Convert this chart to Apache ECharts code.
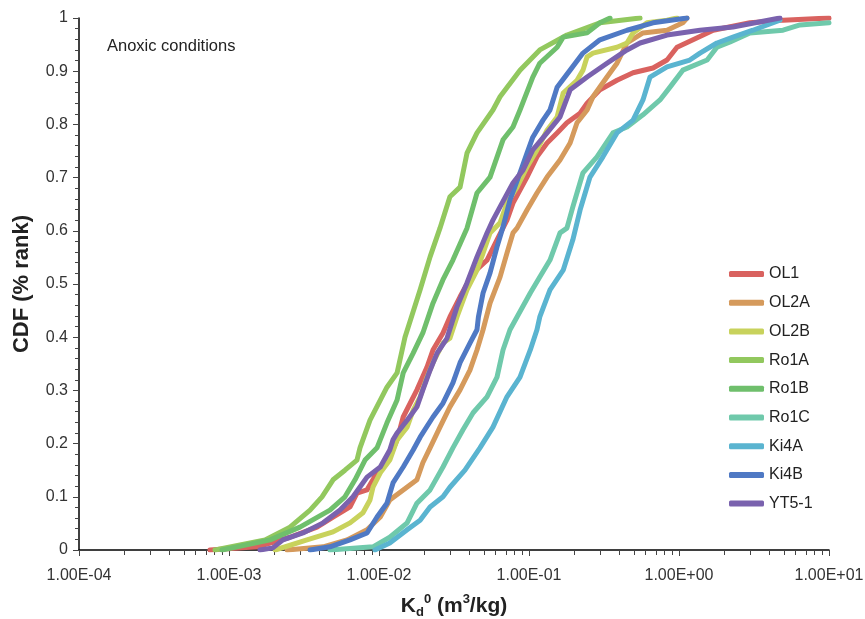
<!DOCTYPE html>
<html>
<head>
<meta charset="utf-8">
<script src="https://cdn.jsdelivr.net/npm/echarts@6/dist/echarts.min.js"></script>
<style>
html,body{margin:0;padding:0;background:#fff;}
#chart{width:865px;height:619px;}
</style>
</head>
<body>
<div id="chart"></div>
<script>
// Series names, legend order
const seriesNames = ['OL1','OL2A','OL2B','Ro1A','Ro1B','Ro1C','Ki4A','Ki4B','YT5-1'];
const seriesColors = ['#d9625f','#d59a5c','#c8d25c','#92c85e','#6fbf6c','#6fc9ab','#5ab4d0','#4f79c4','#7a62ae'];

// Each series: [Kd0 (m3/kg), CDF rank]
const OL1 = [[7.47e-4,0],[1.54e-3,0.006],[2.55e-3,0.024],[3.86e-3,0.043],[4.94e-3,0.062],[6.41e-3,0.081],[7.13e-3,0.107],[8.32e-3,0.113],[9.70e-3,0.145],[1.18e-2,0.175],[1.32e-2,0.207],[1.45e-2,0.25],[1.79e-2,0.301],[2.09e-2,0.344],[2.29e-2,0.376],[2.67e-2,0.408],[2.97e-2,0.438],[3.47e-2,0.476],[4.24e-2,0.521],[5.25e-2,0.545],[6.12e-2,0.583],[7.13e-2,0.620],[7.82e-2,0.652],[9.70e-2,0.701],[0.113,0.739],[0.132,0.765],[0.154,0.784],[0.179,0.803],[0.219,0.821],[0.244,0.840],[0.297,0.865],[0.386,0.883],[0.494,0.897],[0.671,0.906],[0.832,0.921],[0.970,0.945],[1.24,0.959],[1.69,0.977],[2.97,0.991],[4.94,0.996],[10,1.0]];
const OL2A = [[2.44e-3,0],[4.24e-3,0.006],[6.12e-3,0.019],[8.32e-3,0.038],[1.02e-2,0.062],[1.18e-2,0.094],[1.45e-2,0.113],[1.79e-2,0.132],[1.96e-2,0.164],[2.19e-2,0.192],[2.55e-2,0.231],[2.97e-2,0.269],[3.47e-2,0.301],[4.04e-2,0.338],[4.50e-2,0.376],[4.94e-2,0.414],[5.50e-2,0.464],[6.41e-2,0.513],[7.13e-2,0.558],[7.82e-2,0.596],[8.32e-2,0.605],[9.70e-2,0.639],[0.113,0.671],[0.132,0.701],[0.161,0.733],[0.188,0.765],[0.209,0.803],[0.244,0.827],[0.267,0.852],[0.331,0.889],[0.386,0.915],[0.450,0.953],[0.575,0.972],[0.832,0.977],[1.06,0.991],[1.13,1.0]];
const OL2B = [[2.03e-3,0],[3.31e-3,0.019],[4.94e-3,0.034],[6.41e-3,0.051],[7.82e-3,0.070],[8.71e-3,0.094],[9.12e-3,0.118],[1.02e-2,0.145],[1.18e-2,0.169],[1.32e-2,0.207],[1.54e-2,0.231],[1.69e-2,0.263],[1.88e-2,0.288],[2.09e-2,0.325],[2.29e-2,0.352],[2.67e-2,0.389],[2.97e-2,0.398],[3.31e-2,0.438],[3.86e-2,0.489],[4.50e-2,0.526],[4.94e-2,0.558],[5.50e-2,0.596],[6.41e-2,0.615],[7.13e-2,0.652],[8.32e-2,0.682],[9.70e-2,0.720],[0.113,0.752],[0.132,0.789],[0.154,0.814],[0.169,0.859],[0.209,0.883],[0.229,0.902],[0.244,0.927],[0.267,0.934],[0.386,0.945],[0.450,0.953],[0.494,0.972],[0.612,0.991],[0.832,0.996],[0.970,1.0]];
const Ro1A = [[8.07e-4,0],[1.74e-3,0.019],[2.55e-3,0.043],[3.47e-3,0.075],[4.17e-3,0.100],[4.94e-3,0.132],[5.93e-3,0.150],[7.13e-3,0.169],[7.47e-3,0.192],[8.71e-3,0.244],[1.13e-2,0.306],[1.32e-2,0.333],[1.49e-2,0.400],[1.88e-2,0.489],[2.19e-2,0.551],[2.55e-2,0.605],[2.97e-2,0.664],[3.47e-2,0.682],[3.86e-2,0.746],[4.50e-2,0.784],[5.75e-2,0.827],[6.41e-2,0.852],[8.71e-2,0.902],[0.118,0.940],[0.179,0.968],[0.297,0.991],[0.550,1.0]];
const Ro1B = [[8.98e-4,0],[1.88e-3,0.019],[2.97e-3,0.043],[4.71e-3,0.075],[5.93e-3,0.100],[6.92e-3,0.132],[8.07e-3,0.169],[9.70e-3,0.192],[1.13e-2,0.239],[1.32e-2,0.282],[1.45e-2,0.333],[1.69e-2,0.370],[1.96e-2,0.408],[2.29e-2,0.464],[2.67e-2,0.508],[3.11e-2,0.545],[3.86e-2,0.605],[4.50e-2,0.671],[5.50e-2,0.701],[6.71e-2,0.771],[7.82e-2,0.795],[8.71e-2,0.827],[0.106,0.889],[0.118,0.915],[0.154,0.945],[0.169,0.964],[0.244,0.972],[0.297,0.991],[0.347,1.0]];
const Ro1C = [[4.71e-3,0],[9.12e-3,0.006],[1.18e-2,0.024],[1.54e-2,0.051],[1.79e-2,0.088],[2.19e-2,0.113],[2.67e-2,0.156],[3.11e-2,0.192],[3.63e-2,0.226],[4.24e-2,0.258],[5.25e-2,0.288],[6.12e-2,0.325],[6.71e-2,0.376],[7.47e-2,0.414],[8.32e-2,0.438],[0.102,0.483],[0.118,0.513],[0.138,0.545],[0.161,0.596],[0.179,0.605],[0.196,0.645],[0.229,0.709],[0.284,0.739],[0.363,0.784],[0.450,0.795],[0.575,0.818],[0.747,0.846],[0.871,0.870],[1.06,0.902],[1.54,0.921],[1.79,0.945],[2.19,0.955],[2.97,0.972],[4.94,0.977],[6.41,0.987],[10,0.991]];
const Ki4A = [[9.40e-3,0],[1.18e-2,0.013],[1.54e-2,0.038],[1.88e-2,0.056],[2.19e-2,0.081],[2.67e-2,0.100],[2.97e-2,0.118],[3.74e-2,0.150],[4.71e-2,0.192],[5.75e-2,0.231],[7.13e-2,0.288],[8.71e-2,0.325],[0.102,0.376],[0.113,0.414],[0.118,0.438],[0.138,0.489],[0.169,0.526],[0.196,0.583],[0.219,0.639],[0.255,0.701],[0.311,0.739],[0.386,0.784],[0.494,0.808],[0.575,0.846],[0.641,0.889],[0.832,0.908],[1.18,0.921],[1.38,0.934],[1.79,0.953],[2.29,0.964],[3.11,0.977],[4.71,0.996]];
const Ki4B = [[3.47e-3,0],[4.71e-3,0.006],[6.41e-3,0.019],[8.32e-3,0.032],[9.70e-3,0.062],[1.13e-2,0.088],[1.24e-2,0.126],[1.45e-2,0.156],[1.69e-2,0.188],[1.88e-2,0.212],[2.29e-2,0.250],[2.67e-2,0.276],[3.11e-2,0.314],[3.47e-2,0.352],[4.04e-2,0.389],[4.50e-2,0.414],[4.60e-2,0.438],[4.94e-2,0.483],[5.50e-2,0.521],[6.12e-2,0.570],[6.71e-2,0.607],[7.47e-2,0.658],[8.71e-2,0.709],[9.70e-2,0.746],[0.106,0.776],[0.124,0.808],[0.138,0.827],[0.154,0.870],[0.188,0.902],[0.229,0.934],[0.297,0.959],[0.450,0.977],[0.671,0.991],[1.13,1.0]];
const YT51 = [[1.61e-3,0],[1.96e-3,0.004],[2.29e-3,0.019],[3.11e-3,0.032],[4.24e-3,0.051],[5.50e-3,0.075],[6.71e-3,0.100],[8.32e-3,0.137],[1.02e-2,0.156],[1.18e-2,0.188],[1.24e-2,0.207],[1.32e-2,0.220],[1.54e-2,0.244],[1.79e-2,0.269],[1.96e-2,0.301],[2.19e-2,0.338],[2.44e-2,0.370],[2.84e-2,0.398],[3.31e-2,0.457],[3.86e-2,0.502],[4.50e-2,0.551],[5.25e-2,0.596],[5.75e-2,0.620],[6.41e-2,0.645],[7.82e-2,0.690],[9.12e-2,0.714],[0.106,0.752],[0.132,0.784],[0.161,0.814],[0.188,0.865],[0.244,0.889],[0.331,0.915],[0.450,0.940],[0.550,0.953],[0.832,0.968],[1.38,0.977],[2.29,0.983],[4.71,1.0]];

const seriesData = [OL1, OL2A, OL2B, Ro1A, Ro1B, Ro1C, Ki4A, Ki4B, YT51];

// Axis settings
const xMin = 1e-4, xMax = 10;
const yTicks = ['0','0.1','0.2','0.3','0.4','0.5','0.6','0.7','0.8','0.9','1'];
const annotation = 'Anoxic conditions';

// log minor tick positions (2..9 within each decade)
const minorTickValues = [];
for (let e = -4; e < 1; e++) {
  for (let m = 2; m <= 9; m++) minorTickValues.push(m * Math.pow(10, e));
}

function sciLabel(v) {
  const e = Math.round(Math.log10(v));
  const mant = v / Math.pow(10, e);
  const abs = Math.abs(e);
  return mant.toFixed(2) + 'E' + (e < 0 ? '-' : '+') + (abs < 10 ? '0' : '') + abs;
}

const FONT = '"Liberation Sans", Arial, sans-serif';
const chart = echarts.init(document.getElementById('chart'), null, {renderer: 'canvas'});

chart.setOption({
  animation: false,
  backgroundColor: '#fff',
  textStyle: {fontFamily: FONT},
  grid: {left: 79, right: 36, top: 18, bottom: 69, containLabel: false, outerBoundsMode: 'none'},
  title: {
    text: annotation, left: 102, top: 33,
    textStyle: {fontFamily: FONT, fontSize: 16.5, fontWeight: 'normal', color: '#222'}
  },
  legend: {
    orient: 'vertical', left: 724, top: 261,
    itemWidth: 35, itemHeight: 6, itemGap: 12.7,
    icon: 'roundRect',
    textStyle: {fontFamily: FONT, fontSize: 16, color: '#222', lineHeight: 16},
    data: seriesNames
  },
  xAxis: [{
    type: 'log', logBase: 10, min: xMin, max: xMax, splitNumber: 5,
    position: 'bottom',
    axisLine: {lineStyle: {color: '#000', width: 1.5}},
    axisTick: {show: true, length: 6, lineStyle: {color: '#444', width: 1}},
    axisLabel: {formatter: sciLabel, fontFamily: FONT, fontSize: 16, color: '#333', margin: 18},
    splitLine: {show: false},
    name: '{k|K}{sub|d}{sup|0}{k| (m}{sup|3}{k|/kg)}',
    nameLocation: 'middle', nameGap: 43,
    nameTextStyle: {
      fontFamily: FONT, fontSize: 21, fontWeight: 'bold', color: '#222',
      rich: {
        k: {fontFamily: FONT, fontSize: 21, fontWeight: 'bold', color: '#222', lineHeight: 26, verticalAlign: 'middle'},
        sub: {fontFamily: FONT, fontSize: 13, fontWeight: 'bold', color: '#222', lineHeight: 26, verticalAlign: 'bottom'},
        sup: {fontFamily: FONT, fontSize: 13, fontWeight: 'bold', color: '#222', lineHeight: 26, verticalAlign: 'top'}
      }
    }
  }, {
    type: 'log', logBase: 10, min: xMin, max: xMax, position: 'bottom',
    axisLine: {show: false},
    axisLabel: {show: false},
    splitLine: {show: false},
    axisTick: {show: true, length: 5, customValues: minorTickValues, lineStyle: {color: '#444', width: 1}}
  }],
  yAxis: {
    type: 'value', min: 0, max: 1, interval: 0.1,
    axisLine: {show: true, lineStyle: {color: '#000', width: 1.5}},
    axisTick: {show: true, length: 6, lineStyle: {color: '#444'}},
    minorTick: {show: true, splitNumber: 5, length: 4, lineStyle: {color: '#444'}},
    axisLabel: {
      fontFamily: FONT, fontSize: 16, color: '#333', margin: 11,
      formatter: (v) => yTicks[Math.round(v * 10)]
    },
    splitLine: {show: false},
    name: 'CDF (% rank)', nameLocation: 'middle', nameGap: 46,
    nameTextStyle: {fontFamily: FONT, fontSize: 22, fontWeight: 'bold', color: '#222'}
  },
  series: seriesNames.map((n, i) => ({
    name: n, type: 'line', xAxisIndex: 0, data: seriesData[i],
    showSymbol: false, symbol: 'none', smooth: false,
    color: seriesColors[i],
    lineStyle: {width: 5, color: seriesColors[i], cap: 'round', join: 'round'}
  }))
});
</script>
</body>
</html>
